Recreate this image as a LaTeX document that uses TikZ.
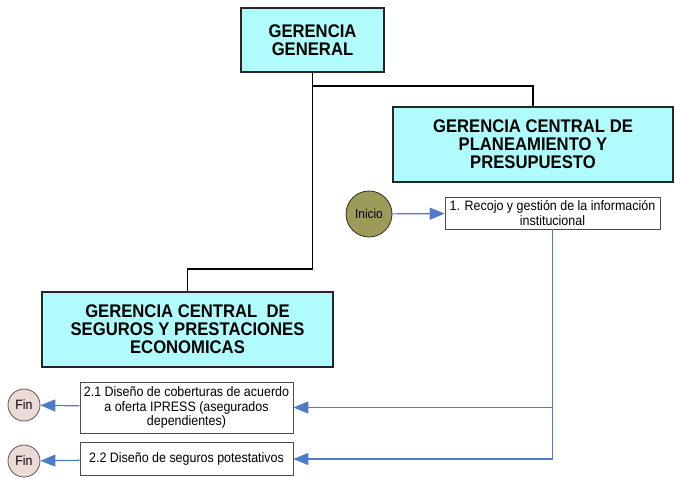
\documentclass[tikz,border=0pt]{standalone}
\usepackage{fontspec}
\setmainfont{Liberation Sans}[FakeStretch=0.91]
\usetikzlibrary{arrows.meta,positioning}
\definecolor{cajacian}{RGB}{176,252,252}
\definecolor{flujo}{RGB}{78,124,200}
\definecolor{inicioverde}{RGB}{156,155,90}
\definecolor{finrosa}{RGB}{236,218,214}

\begin{document}
\begin{tikzpicture}[x=1pt, y=-1pt,
                    gerencia/.style = {draw=black!85, line width=1.6pt, fill=cajacian, align=center, inner sep=0pt,
                                       font=\bfseries\fontsize{18.3}{18}\selectfont},
                    proceso/.style = {draw=black!70, line width=0.6pt, fill=white, align=center, inner sep=0pt,
                                      font=\fontsize{13.7}{14.5}\selectfont},
                    barrow/.style = {draw=flujo, line width=1.2pt, arrows = {-Triangle[width=12pt, length=15pt]}}
                ]

                \useasboundingbox (0,0) rectangle (675,477);

                % organigrama
                \node[gerencia, minimum width=143pt, minimum height=64pt] (GG) at (312.5,40) {GERENCIA\\GENERAL};
                \node[gerencia, minimum width=280pt, minimum height=75pt] (GP) at (533,144.5) {GERENCIA CENTRAL DE\\PLANEAMIENTO Y\\PRESUPUESTO};
                \node[gerencia, minimum width=291pt, minimum height=75pt] (GS) at (187.5,329.5) {GERENCIA CENTRAL\ \ DE\\SEGUROS Y PRESTACIONES\\ECONOMICAS};

                \draw[line width=1.6pt] (GG.south) -- ++(0,196) -| (GS.north);
                \draw[line width=1.6pt] (GG.south |- 0,86) -| (GP.north);

                % procesos
                \node[circle, draw=black!70!inicioverde, line width=0.8pt, fill=inicioverde, minimum size=46pt, inner sep=0pt,
                      font=\fontsize{13}{13}\selectfont] (inicio) at (369,214) {Inicio};
                \node[proceso, minimum width=215pt, minimum height=32pt] (p1) at (552.5,213) {1. Recojo y gestión de la información\\institucional};
                \node[proceso, minimum width=213pt, minimum height=51pt] (p21) at (186.5,407.5) {2.1 Diseño de coberturas de acuerdo\\a oferta IPRESS (asegurados\\dependientes)};
                \node[proceso, minimum width=213pt, minimum height=33pt] (p22) at (186.5,459) {2.2 Diseño de seguros potestativos};
                \node[circle, draw=black!60!finrosa, line width=0.8pt, fill=finrosa, minimum size=32pt, inner sep=0pt,
                      font=\fontsize{13.5}{14}\selectfont] (fin1) at (24,405) {Fin};
                \node[circle, draw=black!60!finrosa, line width=0.8pt, fill=finrosa, minimum size=32pt, inner sep=0pt,
                      font=\fontsize{13.5}{14}\selectfont] (fin2) at (24,461) {Fin};

                \coordinate (bajada) at (p1.south |- p22.east);

                \draw[barrow] (inicio) -- (p1);
                \draw[barrow] (p1.south) -- (bajada) -- (p22.east);
                \draw[barrow] (p1.south |- p21.east) -- (p21.east);
                \draw[barrow] (p21) -- (fin1);
                \draw[barrow] (p22) -- (fin2);

            \end{tikzpicture}
\end{document}
